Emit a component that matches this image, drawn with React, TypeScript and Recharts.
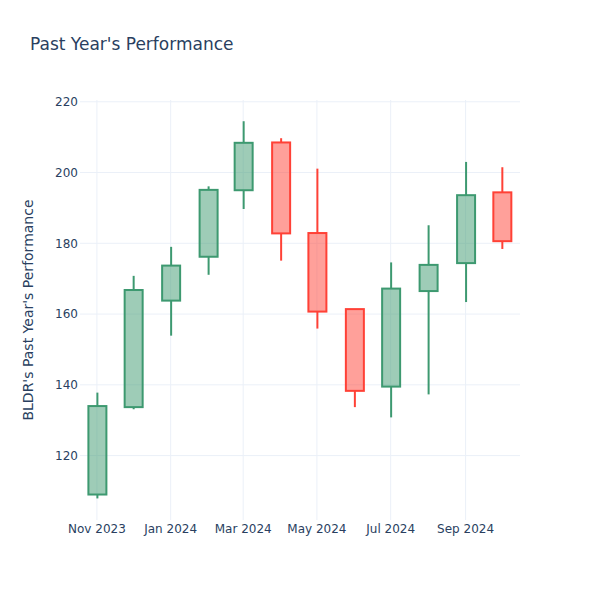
import React from 'react';
import { ComposedChart, Bar, XAxis, YAxis, CartesianGrid } from 'recharts';

const MONTHS = [
  '2023-11-01', '2023-12-01', '2024-01-01', '2024-02-01', '2024-03-01', '2024-04-01',
  '2024-05-01', '2024-06-01', '2024-07-01', '2024-08-01', '2024-09-01', '2024-10-01',
];
const OPEN = [109.0, 133.7, 163.8, 176.2, 195.0, 208.5, 182.9, 161.4, 139.5, 166.5, 174.4, 194.4];
const HIGH = [137.8, 170.8, 179.0, 196.1, 214.5, 209.7, 201.1, 161.4, 174.6, 185.1, 203.0, 201.5];
const LOW = [107.9, 133.1, 153.9, 171.1, 189.7, 175.1, 155.9, 133.7, 130.8, 137.3, 163.4, 178.4];
const CLOSE = [134.0, 166.8, 173.7, 195.1, 208.4, 182.8, 160.7, 138.3, 167.2, 173.9, 193.6, 180.6];

const X_TICKS = ['2023-11-01', '2024-01-01', '2024-03-01', '2024-05-01', '2024-07-01', '2024-09-01'];
const Y_TICKS = [120, 140, 160, 180, 200, 220];
const MONTH_NAMES = ['Jan', 'Feb', 'Mar', 'Apr', 'May', 'Jun', 'Jul', 'Aug', 'Sep', 'Oct', 'Nov', 'Dec'];

const UP = '#3D9970';
const DOWN = '#FF4136';
const TEXT = '#2a3f5f';
const GRID = '#EBF0F8';
const FONT = '"DejaVu Sans", sans-serif';

const data = MONTHS.map((m, i) => ({
  date: Date.parse(m),
  open: OPEN[i],
  high: HIGH[i],
  low: LOW[i],
  close: CLOSE[i],
}));

const xTickValues = X_TICKS.map((t) => Date.parse(t));

const fmtDate = (t: number) => {
  const d = new Date(t);
  return `${MONTH_NAMES[d.getUTCMonth()]} ${d.getUTCFullYear()}`;
};

// draws one candle inside the [low, high] bar box given by recharts
const Candle = (props: any) => {
  const { x, y, width, height, payload } = props;
  if (payload == null || height == null) return null;
  const { open, close, high, low } = payload;
  const span = high - low || 1;
  const py = (v: number) => y + ((high - v) / span) * height;
  const up = close >= open;
  const color = up ? UP : DOWN;
  const cx = x + width / 2;
  const top = py(Math.max(open, close));
  const bot = py(Math.min(open, close));
  return (
    <g>
      <line x1={cx} x2={cx} y1={y} y2={top} stroke={color} strokeWidth={2} />
      <line x1={cx} x2={cx} y1={bot} y2={y + height} stroke={color} strokeWidth={2} />
      <rect
        x={x}
        y={top}
        width={width}
        height={Math.max(bot - top, 1)}
        fill={color}
        fillOpacity={0.5}
        stroke={color}
        strokeWidth={2}
      />
    </g>
  );
};

export default function App() {
  return (
    <div style={{ position: 'absolute', left: 0, top: 0, width: 600, height: 600, background: '#fff' }}>
      <div
        style={{
          position: 'absolute',
          left: 30,
          top: 34,
          fontFamily: FONT,
          fontSize: 17,
          color: TEXT,
          whiteSpace: 'nowrap',
        }}
      >
        Past Year's Performance
      </div>
      <ComposedChart
        width={600}
        height={600}
        data={data}
        margin={{ top: 100, right: 80, bottom: 50, left: 40 }}
      >
        <CartesianGrid
          stroke={GRID}
          strokeWidth={1}
          horizontalValues={Y_TICKS}
          verticalValues={xTickValues}
        />
        <XAxis
          dataKey="date"
          type="number"
          scale="linear"
          domain={[Date.parse('2023-10-18'), Date.parse('2024-10-16')]}
          ticks={xTickValues}
          tickFormatter={fmtDate}
          axisLine={false}
          tickLine={false}
          tickSize={0}
          tickMargin={4}
          height={30}
          tick={{ fill: TEXT, fontSize: 12, fontFamily: FONT }}
          interval={0}
        />
        <YAxis
          type="number"
          domain={[101.8, 220.5]}
          ticks={Y_TICKS}
          axisLine={false}
          tickLine={false}
          tickSize={0}
          tickMargin={2}
          width={40}
          tick={{ fill: TEXT, fontSize: 12, fontFamily: FONT }}
          label={{
            value: "BLDR's Past Year's Performance",
            angle: -90,
            position: 'center',
            dx: -32,
            fill: TEXT,
            fontSize: 14,
            fontFamily: FONT,
          }}
        />
        <Bar
          dataKey={(d: any) => [d.low, d.high]}
          barSize={18}
          shape={<Candle />}
          isAnimationActive={false}
        />
      </ComposedChart>
    </div>
  );
}
